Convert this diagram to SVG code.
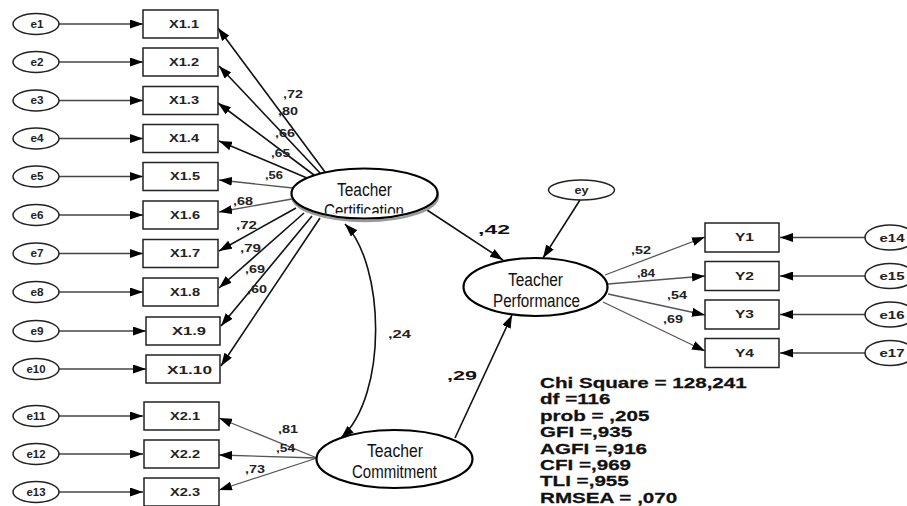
<svg xmlns="http://www.w3.org/2000/svg" width="907" height="506" viewBox="0 0 907 506">
<style>
.err{fill:#fff;stroke:#222;stroke-width:1.5}
.box{fill:#fff;stroke:#222;stroke-width:1.5}
.lat{fill:#fff;stroke:#000;stroke-width:2.2}
.et{font-family:"Liberation Sans",Arial,sans-serif;font-weight:bold;font-size:10px;fill:#222;text-anchor:middle}
.bt{font-family:"Liberation Sans",Arial,sans-serif;font-weight:bold;font-size:10.5px;fill:#222;text-anchor:middle}
.lt{font-family:"Liberation Sans",Arial,sans-serif;font-size:18px;fill:#111;text-anchor:middle}
.ld{font-family:"Liberation Sans",Arial,sans-serif;font-weight:bold;font-size:10px;fill:#222}
.pc{font-family:"Liberation Sans",Arial,sans-serif;font-weight:bold;font-size:13px;fill:#111}
.st{font-family:"Liberation Sans",Arial,sans-serif;font-weight:bold;font-size:15px;fill:#111;stroke:#111;stroke-width:0.25}
.c1{fill:none;stroke:#444;stroke-width:1.3;marker-end:url(#ah)}
.c2{fill:none;stroke:#111;stroke-width:1.6;marker-end:url(#ah)}
.c3{fill:none;stroke:#555;stroke-width:1.3;marker-end:url(#ah)}
</style>
<defs>
<marker id="ah" viewBox="0 0 13 9" refX="13" refY="4.5" markerWidth="13" markerHeight="9" markerUnits="userSpaceOnUse" orient="auto-start-reverse">
<path d="M0,0 L13,4.5 L0,9 z" fill="#000"/>
</marker>
<clipPath id="cc"><rect x="280" y="160" width="170" height="53.5"/></clipPath>
</defs>
<rect width="907" height="506" fill="#fff"/>

<g id="connectors">
<line class="c1" x1="59" y1="24" x2="143" y2="24"/>
<line class="c1" x1="59" y1="62" x2="143" y2="62"/>
<line class="c1" x1="59" y1="100.5" x2="143" y2="100.5"/>
<line class="c1" x1="59" y1="138.5" x2="143" y2="138.5"/>
<line class="c1" x1="59" y1="176.5" x2="143" y2="176.5"/>
<line class="c1" x1="59" y1="215" x2="143" y2="215"/>
<line class="c1" x1="59" y1="253.5" x2="143" y2="253.5"/>
<line class="c1" x1="59" y1="292" x2="143" y2="292"/>
<line class="c1" x1="59" y1="331" x2="146" y2="331"/>
<line class="c1" x1="59" y1="369" x2="146" y2="369"/>
<line class="c1" x1="59" y1="416" x2="143" y2="416"/>
<line class="c1" x1="59" y1="454" x2="143" y2="454"/>
<line class="c1" x1="59" y1="492" x2="143" y2="492"/>
<line class="c2" x1="325" y1="172" x2="218" y2="28"/>
<line class="c2" x1="320" y1="173" x2="219" y2="66"/>
<line class="c2" x1="314" y1="175" x2="218" y2="103"/>
<line class="c2" x1="307" y1="178" x2="219" y2="141"/>
<line class="c3" x1="293" y1="188" x2="219" y2="180"/>
<line class="c3" x1="292" y1="199" x2="219" y2="212"/>
<line class="c2" x1="296" y1="208" x2="219" y2="251"/>
<line class="c2" x1="304" y1="213" x2="219" y2="288"/>
<line class="c2" x1="312" y1="216" x2="221" y2="326"/>
<line class="c2" x1="320" y1="218" x2="221" y2="366"/>
<line class="c3" x1="317" y1="458" x2="219" y2="418"/>
<line class="c3" x1="317" y1="458" x2="219" y2="455"/>
<line class="c3" x1="317" y1="458" x2="219" y2="490"/>
<line class="c2" x1="427" y1="210" x2="503" y2="260"/>
<line class="c2" x1="455" y1="438" x2="512" y2="315"/>
<line class="c2" x1="580" y1="200" x2="543" y2="258"/>
<path class="c2" d="M345,224 C385,265 388,395 341,438" marker-start="url(#ah)"/>
<line class="c3" x1="605" y1="275" x2="705" y2="237"/>
<line class="c3" x1="608" y1="284" x2="705" y2="276"/>
<line class="c3" x1="608" y1="294" x2="705" y2="315"/>
<line class="c3" x1="603" y1="302" x2="705" y2="351"/>
<line class="c1" x1="865" y1="237.5" x2="780" y2="237.5"/>
<line class="c1" x1="865" y1="276" x2="780" y2="276"/>
<line class="c1" x1="865" y1="314.5" x2="780" y2="314.5"/>
<line class="c1" x1="865" y1="353" x2="780" y2="353"/>
</g>

<g id="loading-labels">
<text class="ld" x="283" y="98" textLength="20" lengthAdjust="spacingAndGlyphs">,72</text>
<text class="ld" x="278" y="115" textLength="20" lengthAdjust="spacingAndGlyphs">,80</text>
<text class="ld" x="275" y="137" textLength="20" lengthAdjust="spacingAndGlyphs">,66</text>
<text class="ld" x="271" y="157" textLength="19" lengthAdjust="spacingAndGlyphs">,65</text>
<text class="ld" x="265" y="179" textLength="18" lengthAdjust="spacingAndGlyphs">,56</text>
<text class="ld" x="233" y="205" textLength="20" lengthAdjust="spacingAndGlyphs">,68</text>
<text class="ld" x="236" y="229" textLength="21" lengthAdjust="spacingAndGlyphs">,72</text>
<text class="ld" x="240" y="252" textLength="21" lengthAdjust="spacingAndGlyphs">,79</text>
<text class="ld" x="245" y="273" textLength="20" lengthAdjust="spacingAndGlyphs">,69</text>
<text class="ld" x="247" y="293" textLength="20" lengthAdjust="spacingAndGlyphs">,60</text>
<text class="ld" x="278" y="433" textLength="20" lengthAdjust="spacingAndGlyphs">,81</text>
<text class="ld" x="276" y="452" textLength="19" lengthAdjust="spacingAndGlyphs">,54</text>
<text class="ld" x="245" y="473" textLength="20" lengthAdjust="spacingAndGlyphs">,73</text>
<text class="ld" x="631" y="254" textLength="20" lengthAdjust="spacingAndGlyphs">,52</text>
<text class="ld" x="637" y="277" textLength="18" lengthAdjust="spacingAndGlyphs">,84</text>
<text class="ld" x="667" y="299" textLength="20" lengthAdjust="spacingAndGlyphs">,54</text>
<text class="ld" x="663" y="323" textLength="20" lengthAdjust="spacingAndGlyphs">,69</text>
<text class="pc" x="478" y="234" textLength="32" lengthAdjust="spacingAndGlyphs">,42</text>
<text class="pc" x="447" y="380" textLength="30" lengthAdjust="spacingAndGlyphs">,29</text>
<text class="ld" x="388" y="338" font-size="11" textLength="23" lengthAdjust="spacingAndGlyphs">,24</text>
</g>

<g id="e1"><ellipse class="err" cx="36" cy="24" rx="23" ry="10.5"/><text class="et" x="37" y="27.5" textLength="13" lengthAdjust="spacingAndGlyphs">e1</text></g>
<g id="e2"><ellipse class="err" cx="36" cy="62" rx="23" ry="10.5"/><text class="et" x="37" y="65.5" textLength="13" lengthAdjust="spacingAndGlyphs">e2</text></g>
<g id="e3"><ellipse class="err" cx="36" cy="100.5" rx="23" ry="10.5"/><text class="et" x="37" y="104" textLength="13" lengthAdjust="spacingAndGlyphs">e3</text></g>
<g id="e4"><ellipse class="err" cx="36" cy="138.5" rx="23" ry="10.5"/><text class="et" x="37" y="142" textLength="13" lengthAdjust="spacingAndGlyphs">e4</text></g>
<g id="e5"><ellipse class="err" cx="36" cy="176.5" rx="23" ry="10.5"/><text class="et" x="37" y="180" textLength="13" lengthAdjust="spacingAndGlyphs">e5</text></g>
<g id="e6"><ellipse class="err" cx="36" cy="215" rx="23" ry="10.5"/><text class="et" x="37" y="218.5" textLength="13" lengthAdjust="spacingAndGlyphs">e6</text></g>
<g id="e7"><ellipse class="err" cx="36" cy="253.5" rx="23" ry="10.5"/><text class="et" x="37" y="257" textLength="13" lengthAdjust="spacingAndGlyphs">e7</text></g>
<g id="e8"><ellipse class="err" cx="36" cy="292" rx="23" ry="10.5"/><text class="et" x="37" y="295.5" textLength="13" lengthAdjust="spacingAndGlyphs">e8</text></g>
<g id="e9"><ellipse class="err" cx="36" cy="331" rx="23" ry="10.5"/><text class="et" x="37" y="334.5" textLength="13" lengthAdjust="spacingAndGlyphs">e9</text></g>
<g id="e10"><ellipse class="err" cx="36" cy="369" rx="23" ry="10.5"/><text class="et" x="36" y="372.5" textLength="19" lengthAdjust="spacingAndGlyphs">e10</text></g>
<g id="e11"><ellipse class="err" cx="36" cy="416" rx="23" ry="10.5"/><text class="et" x="36" y="419.5" textLength="19" lengthAdjust="spacingAndGlyphs">e11</text></g>
<g id="e12"><ellipse class="err" cx="36" cy="454" rx="23" ry="10.5"/><text class="et" x="36" y="457.5" textLength="19" lengthAdjust="spacingAndGlyphs">e12</text></g>
<g id="e13"><ellipse class="err" cx="36" cy="492" rx="23" ry="10.5"/><text class="et" x="36" y="495.5" textLength="19" lengthAdjust="spacingAndGlyphs">e13</text></g>

<g id="X1.1"><rect class="box" x="143" y="10" width="75" height="28"/><text class="bt" x="184" y="27.5" textLength="30" lengthAdjust="spacingAndGlyphs">X1.1</text></g>
<g id="X1.2"><rect class="box" x="143" y="48" width="75" height="28"/><text class="bt" x="184" y="65.5" textLength="30" lengthAdjust="spacingAndGlyphs">X1.2</text></g>
<g id="X1.3"><rect class="box" x="143" y="86.5" width="75" height="28"/><text class="bt" x="184" y="104" textLength="30" lengthAdjust="spacingAndGlyphs">X1.3</text></g>
<g id="X1.4"><rect class="box" x="143" y="124.5" width="75" height="28"/><text class="bt" x="184" y="142" textLength="30" lengthAdjust="spacingAndGlyphs">X1.4</text></g>
<g id="X1.5"><rect class="box" x="143" y="162.5" width="75" height="28"/><text class="bt" x="185" y="180" textLength="30" lengthAdjust="spacingAndGlyphs">X1.5</text></g>
<g id="X1.6"><rect class="box" x="143" y="201" width="75" height="28"/><text class="bt" x="185" y="218.5" textLength="30" lengthAdjust="spacingAndGlyphs">X1.6</text></g>
<g id="X1.7"><rect class="box" x="143" y="239.5" width="75" height="28"/><text class="bt" x="185" y="257" textLength="30" lengthAdjust="spacingAndGlyphs">X1.7</text></g>
<g id="X1.8"><rect class="box" x="143" y="278" width="75" height="28"/><text class="bt" x="185" y="295.5" textLength="30" lengthAdjust="spacingAndGlyphs">X1.8</text></g>
<g id="X1.9"><rect class="box" x="146" y="317" width="74" height="28"/><text class="bt" x="189" y="335" font-size="11.5" textLength="34" lengthAdjust="spacingAndGlyphs">X1.9</text></g>
<g id="X1.10"><rect class="box" x="146" y="355" width="74" height="28"/><text class="bt" x="189.5" y="373.5" font-size="12" textLength="45" lengthAdjust="spacingAndGlyphs">X1.10</text></g>
<g id="X2.1"><rect class="box" x="144" y="402" width="75" height="28"/><text class="bt" x="185" y="419.5" textLength="30" lengthAdjust="spacingAndGlyphs">X2.1</text></g>
<g id="X2.2"><rect class="box" x="144" y="440" width="75" height="28"/><text class="bt" x="185" y="457.5" textLength="30" lengthAdjust="spacingAndGlyphs">X2.2</text></g>
<g id="X2.3"><rect class="box" x="144" y="478" width="75" height="28"/><text class="bt" x="185" y="495.5" textLength="30" lengthAdjust="spacingAndGlyphs">X2.3</text></g>

<g id="TeacherCertification">
<ellipse cx="365" cy="196" rx="73" ry="25" fill="none" stroke="#999" stroke-width="2.5"/>
<ellipse class="lat" cx="364.5" cy="193.5" rx="73" ry="25"/>
<text class="lt" x="364.5" y="196" textLength="55" lengthAdjust="spacingAndGlyphs">Teacher</text>
<text class="lt" x="364" y="217" clip-path="url(#cc)" textLength="80" lengthAdjust="spacingAndGlyphs">Certification</text>
</g>
<g id="TeacherPerformance">
<ellipse class="lat" cx="535.5" cy="287" rx="72" ry="29"/>
<text class="lt" x="535.5" y="286" textLength="55" lengthAdjust="spacingAndGlyphs">Teacher</text>
<text class="lt" x="536.5" y="307" textLength="87" lengthAdjust="spacingAndGlyphs">Performance</text>
</g>
<g id="TeacherCommitment">
<ellipse class="lat" cx="394.5" cy="459" rx="78" ry="29"/>
<text class="lt" x="395" y="457" textLength="56" lengthAdjust="spacingAndGlyphs">Teacher</text>
<text class="lt" x="394.5" y="478" textLength="85" lengthAdjust="spacingAndGlyphs">Commitment</text>
</g>
<g id="ey"><ellipse class="err" cx="581.5" cy="190" rx="33" ry="10"/><text class="et" x="581.5" y="193.5" textLength="14" lengthAdjust="spacingAndGlyphs">ey</text></g>

<g id="Y1"><rect class="box" x="705" y="223" width="74" height="29"/><text class="bt" x="744.5" y="241" textLength="19" lengthAdjust="spacingAndGlyphs">Y1</text></g>
<g id="Y2"><rect class="box" x="705" y="261.5" width="74" height="29"/><text class="bt" x="744.5" y="279.5" textLength="19" lengthAdjust="spacingAndGlyphs">Y2</text></g>
<g id="Y3"><rect class="box" x="705" y="300" width="74" height="29"/><text class="bt" x="744.5" y="318" textLength="19" lengthAdjust="spacingAndGlyphs">Y3</text></g>
<g id="Y4"><rect class="box" x="705" y="338.5" width="74" height="29"/><text class="bt" x="744.5" y="356.5" textLength="19" lengthAdjust="spacingAndGlyphs">Y4</text></g>

<g id="e14"><ellipse class="err" cx="890" cy="237.5" rx="25" ry="12.5"/><text class="et" x="892" y="241.5" font-size="11" textLength="25" lengthAdjust="spacingAndGlyphs">e14</text></g>
<g id="e15"><ellipse class="err" cx="890" cy="276" rx="25" ry="12.5"/><text class="et" x="892" y="280" font-size="11" textLength="25" lengthAdjust="spacingAndGlyphs">e15</text></g>
<g id="e16"><ellipse class="err" cx="890" cy="314.5" rx="25" ry="12.5"/><text class="et" x="892" y="318.5" font-size="11" textLength="25" lengthAdjust="spacingAndGlyphs">e16</text></g>
<g id="e17"><ellipse class="err" cx="890" cy="353" rx="25" ry="12.5"/><text class="et" x="892" y="357" font-size="11" textLength="25" lengthAdjust="spacingAndGlyphs">e17</text></g>

<g id="fit-stats" transform="translate(540 0) scale(1.375 1)">
<text class="st" x="0" y="388">Chi Square = 128,241</text>
<text class="st" x="0" y="404.4">df =116</text>
<text class="st" x="0" y="420.8">prob = ,205</text>
<text class="st" x="0" y="437.2">GFI =,935</text>
<text class="st" x="0" y="453.6">AGFI =,916</text>
<text class="st" x="0" y="470">CFI =,969</text>
<text class="st" x="0" y="486.4">TLI =,955</text>
<text class="st" x="0" y="502.8">RMSEA = ,070</text>
</g>
</svg>
